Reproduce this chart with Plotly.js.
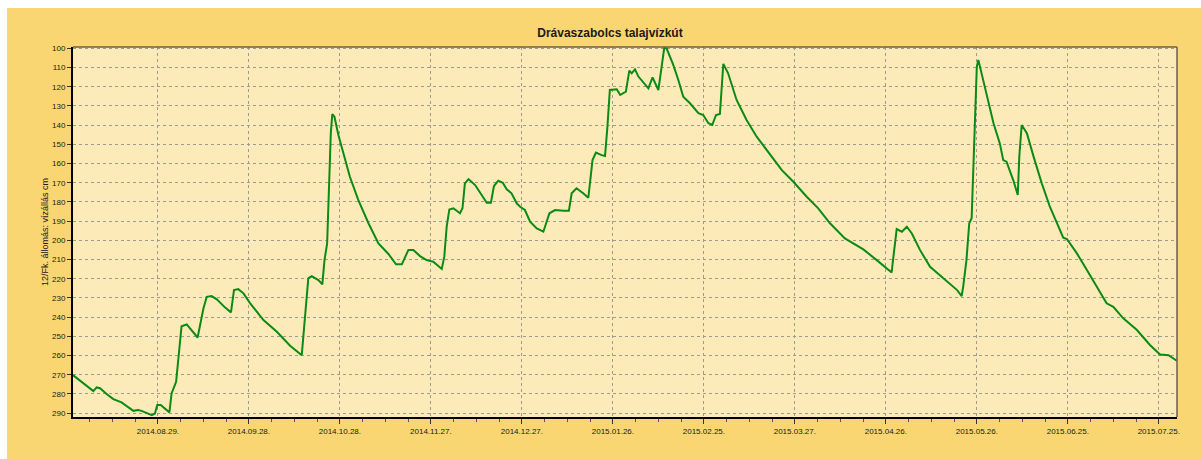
<!DOCTYPE html>
<html>
<head>
<meta charset="utf-8">
<script src="https://cdn.plot.ly/plotly-3.0.1.min.js"></script>
<style>
html,body{margin:0;padding:0;background:#ffffff;width:1201px;height:459px;overflow:hidden;}
#chart{position:absolute;left:7px;top:8px;width:1194px;height:451px;}
</style>
</head>
<body>
<div id="chart"></div>
<script>
const chartTitle = "Drávaszabolcs talajvízkút";
const yAxisTitle = "12/Fk. állomás: vízállás cm";

const dates = [
"2014-08-01 00:00","2014-08-04 10:00","2014-08-07 17:00","2014-08-08 19:00","2014-08-09 22:00",
"2014-08-12 02:00","2014-08-14 07:00","2014-08-17 00:00","2014-08-20 22:00","2014-08-22 12:00",
"2014-08-23 14:00","2014-08-27 00:00","2014-08-28 00:00","2014-08-28 19:00","2014-08-29 22:00",
"2014-09-01 19:00","2014-09-02 12:00","2014-09-04 00:00","2014-09-04 17:00","2014-09-05 19:00",
"2014-09-07 12:00","2014-09-09 02:00","2014-09-11 02:00","2014-09-13 00:00","2014-09-14 02:00",
"2014-09-15 17:00","2014-09-17 10:00","2014-09-20 02:00","2014-09-22 02:00","2014-09-23 02:00",
"2014-09-24 12:00","2014-09-26 05:00","2014-09-28 10:00","2014-10-02 19:00","2014-10-07 05:00",
"2014-10-11 14:00","2014-10-15 10:00","2014-10-16 12:00","2014-10-17 14:00","2014-10-18 17:00",
"2014-10-20 22:00","2014-10-22 05:00","2014-10-22 22:00","2014-10-23 19:00","2014-10-24 12:00",
"2014-10-25 00:00","2014-10-25 12:00","2014-10-26 05:00","2014-10-27 12:00","2014-10-29 02:00",
"2014-10-31 07:00","2014-11-03 02:00","2014-11-06 10:00","2014-11-09 17:00","2014-11-13 00:00",
"2014-11-15 12:00","2014-11-17 10:00","2014-11-19 14:00","2014-11-21 05:00","2014-11-23 10:00",
"2014-11-25 14:00","2014-11-27 19:00","2014-11-30 14:00","2014-12-01 10:00","2014-12-02 05:00",
"2014-12-03 02:00","2014-12-04 10:00","2014-12-06 14:00","2014-12-07 10:00","2014-12-08 05:00",
"2014-12-09 10:00","2014-12-11 14:00","2014-12-13 19:00","2014-12-15 10:00","2014-12-16 19:00",
"2014-12-17 19:00","2014-12-19 05:00","2014-12-20 17:00","2014-12-22 00:00","2014-12-23 14:00",
"2014-12-25 07:00","2014-12-26 10:00","2014-12-28 00:00","2014-12-29 17:00","2014-12-31 22:00",
"2015-01-03 02:00","2015-01-05 02:00","2015-01-06 22:00","2015-01-09 17:00","2015-01-11 12:00",
"2015-01-12 10:00","2015-01-14 00:00","2015-01-16 05:00","2015-01-17 22:00","2015-01-19 07:00",
"2015-01-20 10:00","2015-01-22 07:00","2015-01-23 10:00","2015-01-24 05:00","2015-01-25 00:00",
"2015-01-27 07:00","2015-01-28 10:00","2015-01-30 07:00","2015-01-31 10:00","2015-02-01 05:00",
"2015-02-02 07:00","2015-02-03 10:00","2015-02-05 00:00","2015-02-06 17:00","2015-02-08 02:00",
"2015-02-10 00:00","2015-02-11 02:00","2015-02-11 22:00","2015-02-12 17:00","2015-02-14 22:00",
"2015-02-16 14:00","2015-02-18 05:00","2015-02-20 10:00","2015-02-23 05:00","2015-02-24 19:00",
"2015-02-26 12:00","2015-02-27 19:00","2015-03-01 00:00","2015-03-02 07:00","2015-03-03 10:00",
"2015-03-05 00:00","2015-03-06 17:00","2015-03-07 19:00","2015-03-08 22:00","2015-03-11 02:00",
"2015-03-14 10:00","2015-03-18 19:00","2015-03-22 17:00","2015-03-26 12:00","2015-03-30 22:00",
"2015-04-03 17:00","2015-04-07 14:00","2015-04-12 12:00","2015-04-18 14:00","2015-04-23 00:00",
"2015-04-27 22:00","2015-04-28 12:00","2015-04-29 14:00","2015-05-01 07:00","2015-05-02 22:00",
"2015-05-04 14:00","2015-05-07 07:00","2015-05-10 14:00","2015-05-15 00:00","2015-05-17 05:00",
"2015-05-19 12:00","2015-05-21 00:00","2015-05-21 12:00","2015-05-22 14:00","2015-05-23 12:00",
"2015-05-24 07:00","2015-05-24 19:00","2015-05-25 10:00","2015-05-26 00:00","2015-05-26 12:00",
"2015-05-27 14:00","2015-05-29 07:00","2015-05-31 12:00","2015-06-02 14:00","2015-06-03 17:00",
"2015-06-04 19:00","2015-06-07 00:00","2015-06-08 12:00","2015-06-09 00:00","2015-06-09 19:00",
"2015-06-11 12:00","2015-06-13 17:00","2015-06-16 10:00","2015-06-19 02:00","2015-06-21 10:00",
"2015-06-23 12:00","2015-06-24 17:00","2015-06-28 00:00","2015-07-01 07:00","2015-07-04 14:00",
"2015-07-07 19:00","2015-07-10 00:00","2015-07-13 07:00","2015-07-17 19:00","2015-07-22 02:00",
"2015-07-25 10:00","2015-07-28 05:00","2015-07-30 22:00"
];

const levels = [
270.2,274.5,278.5,276.6,277.0,
280.0,282.7,284.4,288.8,288.4,
288.8,291.0,290.2,285.8,285.8,
289.6,279.7,273.7,260.6,244.7,
243.8,246.7,250.6,235.5,229.4,
229.0,230.7,234.9,237.5,225.9,
225.4,227.6,232.8,241.5,247.6,
254.9,259.8,239.8,219.8,218.6,
220.7,222.9,210.3,201.6,170.3,
144.2,134.2,135.6,145.1,154.7,
166.9,179.0,191.1,201.6,207.1,
212.5,212.5,205.0,205.0,208.2,
210.3,211.1,214.9,208.5,192.9,
183.9,183.3,185.9,183.3,170.3,
168.1,171.2,176.4,180.4,180.4,
171.7,168.9,170.0,173.4,175.5,
180.7,182.5,184.2,190.3,193.8,
195.5,185.9,184.2,184.6,184.6,
175.5,172.9,175.5,177.8,158.2,
154.3,155.6,156.1,140.8,121.7,
121.3,124.3,122.6,111.6,113.0,
110.9,114.7,117.9,120.8,115.1,
121.7,109.5,100.0,100.0,108.6,
116.5,125.2,128.6,133.8,134.7,
139.0,139.9,134.7,134.2,108.1,
113.0,121.7,126.9,130.4,137.3,
146.0,155.5,163.4,169.5,177.3,
183.3,191.1,199.0,204.7,210.3,
216.7,208.5,194.1,195.5,192.9,
196.4,205.1,213.8,219.8,222.4,
225.9,229.0,224.2,210.3,191.1,
188.5,165.1,130.4,109.5,106.0,
113.0,125.2,139.0,149.5,158.2,
159.0,168.6,176.4,156.4,139.9,
144.2,156.4,170.3,182.5,191.1,
198.6,199.3,206.8,215.5,224.2,
232.8,234.6,240.6,246.7,254.5,
259.4,259.8,262.7
];

const xTickStart = "2014-08-29";
const xRange = ["2014-08-01", "2015-07-31"];
const yRange = [292, 99.3];

const DAY = 86400000;
const tickFont = {family: "Liberation Sans, Arial, sans-serif", size: 8, color: "#1a1a1a"};

const trace = {
  x: dates, y: levels, type: "scatter", mode: "lines",
  line: {color: "#0b8a14", width: 2}, hoverinfo: "x+y"
};

const layout = {
  width: 1194, height: 451,
  paper_bgcolor: "#f9d671", plot_bgcolor: "#fcebb8",
  margin: {l: 66, r: 24, t: 39, b: 42},
  showlegend: false,
  title: {text: "<b>" + chartTitle + "</b>", x: 0.505, xanchor: "center", y: 0.944, yanchor: "middle",
          font: {family: "Liberation Sans, Arial, sans-serif", size: 12, color: "#1a1a1a"}},
  xaxis: {
    type: "date", range: xRange, tickmode: "linear", tick0: xTickStart, dtick: 30 * DAY,
    tickformat: "%Y.%m.%d.", tickfont: tickFont,
    ticks: "outside", ticklen: 5, tickcolor: "#333", tickwidth: 1,
    showgrid: true, gridcolor: "#a09a90", griddash: "3px,3px", gridwidth: 1,
    showline: true, linecolor: "#000", linewidth: 2, mirror: false, zeroline: false,
    minor: {dtick: 7.5 * DAY, tick0: xTickStart, ticks: "outside", ticklen: 3, tickcolor: "#555", showgrid: false},
    fixedrange: true, automargin: false
  },
  yaxis: {
    range: yRange, tickmode: "linear", tick0: 100, dtick: 10, tickfont: tickFont,
    ticks: "outside", ticklen: 4, tickcolor: "#333", tickwidth: 1,
    showgrid: true, gridcolor: "#a09a90", griddash: "3px,3px", gridwidth: 1,
    showline: true, linecolor: "#000", linewidth: 2, mirror: false, zeroline: false,
    title: {text: yAxisTitle, font: {family: "Liberation Sans, Arial, sans-serif", size: 9, color: "#1a1a1a"}, standoff: 2},
    fixedrange: true, automargin: false
  },
  shapes: [
    {type: "line", xref: "paper", yref: "paper", x0: 0, x1: 1, y0: 1, y1: 1, line: {color: "#6b5e45", width: 1.5}},
    {type: "line", xref: "paper", yref: "paper", x0: 1, x1: 1, y0: 0, y1: 1, line: {color: "#6b5e45", width: 1.5}}
  ]
};

Plotly.newPlot("chart", [trace], layout, {displayModeBar: false, staticPlot: true});
</script>
</body>
</html>
